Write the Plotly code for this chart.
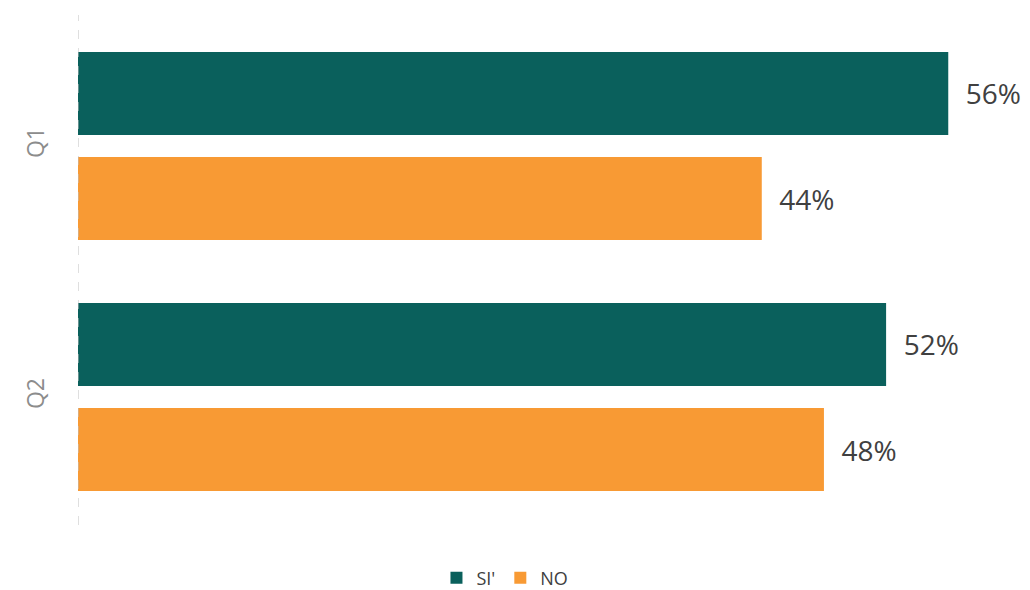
import plotly.graph_objects as go

categories = ["Q1", "Q2"]
si_values = [56, 52]
no_values = [44, 48]
series_names = ["SI'", "NO"]

teal = "#0A605C"
orange = "#F89A34"
label_font = dict(size=28, color="#404040", family="Open Sans")

fig = go.Figure()
fig.add_trace(go.Bar(
    y=categories, x=si_values, orientation="h", name=series_names[0],
    marker=dict(color=teal, line=dict(width=0)),
    text=[f"\u00a0\u00a0{v}%" for v in si_values], textposition="outside",
    textfont=label_font, cliponaxis=False,
))
fig.add_trace(go.Bar(
    y=categories, x=no_values, orientation="h", name=series_names[1],
    marker=dict(color=orange, line=dict(width=0)),
    text=[f"\u00a0\u00a0{v}%" for v in no_values], textposition="outside",
    textfont=label_font, cliponaxis=False,
))

fig.add_shape(type="line", xref="x", yref="paper", x0=0, x1=0, y0=0, y1=1,
              line=dict(color="#BFBFBF", width=1, dash="dash"))

fig.update_layout(
    width=1022, height=582,
    margin=dict(l=70, r=0, t=7, b=65, autoexpand=False),
    paper_bgcolor="white", plot_bgcolor="white",
    barmode="group", bargap=0.163, bargroupgap=0.21,
    showlegend=True,
    legend=dict(orientation="h", xref="paper", yref="paper",
                x=0.4485, xanchor="center", y=-0.104, yanchor="middle",
                font=dict(size=18, color="#404040", family="Open Sans"),
                itemwidth=30),
    xaxis=dict(range=[0, 61.26], showgrid=False, zeroline=False,
               showticklabels=False, showline=False, automargin=False),
    yaxis=dict(range=[1.51, -0.522], showgrid=False, zeroline=False,
               showline=False, tickangle=-90, ticks="outside", ticklen=24,
               tickcolor="rgba(0,0,0,0)", automargin=False,
               tickfont=dict(size=23, color="#8C8C8C", family="Open Sans")),
    font=dict(family="Open Sans"),
)

fig.write_html("out.html")
